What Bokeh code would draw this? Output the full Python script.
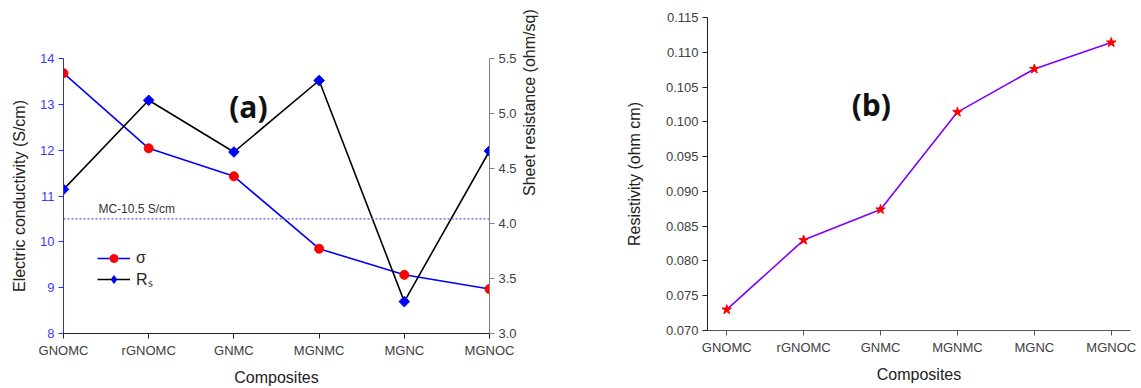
from bokeh.plotting import figure
from bokeh.layouts import row, column
from bokeh.models import (Range1d, LinearAxis, FixedTicker, Span, Label, Legend,
                          LegendItem, PrintfTickFormatter, ColumnDataSource)
from bokeh.embed import file_html
from bokeh.resources import INLINE
import math

# ---------------- data ----------------
composites = ["GNOMC", "rGNOMC", "GNMC", "MGNMC", "MGNC", "MGNOC"]
sigma = [13.68, 12.04, 11.43, 9.85, 9.28, 8.97]          # S/cm
sheet_res = [4.31, 5.12, 4.65, 5.30, 3.29, 4.66]          # ohm/sq
resistivity = [0.0730, 0.0830, 0.0874, 0.1014, 0.1076, 0.1114]  # ohm cm
mc_ref = 10.5
left_ticks_a = [8, 9, 10, 11, 12, 13, 14]
right_ticks_a = [3.0, 3.5, 4.0, 4.5, 5.0, 5.5]
ticks_b = [0.070, 0.075, 0.080, 0.085, 0.090, 0.095, 0.100, 0.105, 0.110, 0.115]

xpos = list(range(len(composites)))
labels = {i: c for i, c in enumerate(composites)}

FONT = "Liberation Sans"
TICK_SIZE = "13px"
TITLE_SIZE = "16px"

def style_axis(ax, line_color="#222222", label_color="#404040"):
    ax.axis_line_color = line_color
    ax.major_tick_line_color = line_color
    ax.minor_tick_line_color = None
    ax.major_tick_in = 0
    ax.major_tick_out = 5
    ax.major_label_text_font = FONT
    ax.major_label_text_font_size = TICK_SIZE
    ax.major_label_text_color = label_color
    ax.axis_label_text_font = FONT
    ax.axis_label_text_font_size = TITLE_SIZE
    ax.axis_label_text_font_style = "normal"
    ax.axis_label_text_color = "#222222"
    ax.major_label_standoff = 4

# ---------------- panel (a) ----------------
src_a = ColumnDataSource(dict(x=xpos, sigma=sigma, rs=sheet_res))
p = figure(width=575, height=388, x_range=Range1d(0, 5), y_range=Range1d(8, 14),
           output_backend="svg", toolbar_location=None,
           min_border_left=63, min_border_right=86, min_border_top=58, min_border_bottom=52)
p.extra_y_ranges = {"rs": Range1d(3.0, 5.5)}
p.outline_line_color = None
p.grid.visible = False

xa = p.xaxis[0]
style_axis(xa, "#222222", "#404040")
xa.ticker = FixedTicker(ticks=xpos)
xa.major_label_overrides = labels
xa.axis_label = "Composites"
xa.axis_label_standoff = 8

ya = p.yaxis[0]
style_axis(ya, "#2a2aff", "#3a3aff")
ya.ticker = FixedTicker(ticks=left_ticks_a)
ya.axis_label = "Electric conductivity (S/cm)"
ya.axis_label_standoff = 9

ra = LinearAxis(y_range_name="rs")
style_axis(ra, "#808080", "#404040")
ra.ticker = FixedTicker(ticks=right_ticks_a)
ra.formatter = PrintfTickFormatter(format="%.1f")
ra.axis_label = "Sheet resistance (ohm/sq)"
ra.axis_label_standoff = 10
ra.axis_label_orientation = math.pi / 2
ra.axis_label_text_align = "center"
p.add_layout(ra, "right")

p.add_layout(Span(location=mc_ref, dimension="width", line_color="#5a5aff",
                  line_dash="2 2", line_width=1.2))
p.add_layout(Label(x=0.41, y=10.57, text="MC-10.5 S/cm", text_font=FONT,
                   text_font_size="12px", text_color="#333333", text_baseline="bottom"))
p.add_layout(Label(x=2.17, y=12.96, text="(a)", text_font="Open Sans",
                   text_font_style="bold", text_font_size="30px", text_color="#111111",
                   text_align="center", text_baseline="middle"))

l1 = p.line("x", "sigma", source=src_a, line_color="#0000ff", line_width=1.6)
s1 = p.scatter("x", "sigma", source=src_a, marker="circle", size=9,
               fill_color="#ff0000", line_color="#ff0000")
l2 = p.line("x", "rs", source=src_a, y_range_name="rs", line_color="#000000", line_width=1.6)
s2 = p.scatter("x", "rs", source=src_a, y_range_name="rs", marker="square", size=7.5,
               angle=math.pi / 4, fill_color="#0000ff", line_color="#0000ff")
# tiny diamond on the same points: only used so the legend shows a diamond symbol
s2_key = p.scatter("x", "rs", source=src_a, y_range_name="rs", marker="diamond", size=0.1,
                   fill_color="#0000ff", line_color="#0000ff")

legend = Legend(items=[LegendItem(label="σ", renderers=[l1, s1]),
                       LegendItem(label="Rₛ", renderers=[l2, s2_key])],
                location=(34, 43), background_fill_alpha=0, border_line_color=None,
                glyph_width=33, glyph_height=20, label_height=20, padding=0,
                spacing=0, margin=0, label_standoff=6,
                label_text_font=FONT, label_text_font_size="16px",
                label_text_color="#222222")
p.add_layout(legend)

# ---------------- panel (b) ----------------
src_b = ColumnDataSource(dict(x=xpos, rho=resistivity))
q = figure(width=566, height=388, x_range=Range1d(-0.25, 5.25), y_range=Range1d(0.070, 0.115),
           output_backend="svg", toolbar_location=None,
           min_border_left=132, min_border_right=11, min_border_top=17, min_border_bottom=58)
q.outline_line_color = None
q.grid.visible = False

xb = q.xaxis[0]
style_axis(xb, "#555555", "#404040")
xb.ticker = FixedTicker(ticks=xpos)
xb.major_label_overrides = labels
xb.axis_label = "Composites"
xb.axis_label_standoff = 8

yb = q.yaxis[0]
style_axis(yb, "#222222", "#404040")
yb.ticker = FixedTicker(ticks=ticks_b)
yb.formatter = PrintfTickFormatter(format="%.3f")
yb.axis_label = "Resistivity (ohm cm)"
yb.axis_label_standoff = 20

q.add_layout(Label(x=1.88, y=0.1025, text="(b)", text_font="Open Sans",
                   text_font_style="bold", text_font_size="30px", text_color="#111111",
                   text_align="center", text_baseline="middle"))

q.line("x", "rho", source=src_b, line_color="#8000ff", line_width=1.6)
q.scatter("x", "rho", source=src_b, marker="star", size=10,
          fill_color="#ff0000", line_color="#ff0000")

layout = row(column(p), column(q))
open("out.html", "w").write(file_html(layout, INLINE))
